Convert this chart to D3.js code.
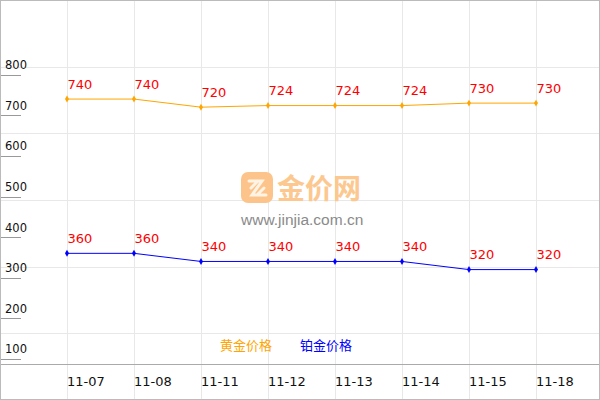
<!DOCTYPE html>
<html><head><meta charset="utf-8">
<script src="https://cdn.jsdelivr.net/npm/d3@7"></script>
<style>html,body{margin:0;padding:0;background:#fff;}svg{display:block;}</style>
</head><body>
<script>
const categories = ["11-07","11-08","11-11","11-12","11-13","11-14","11-15","11-18"];
const goldValues = [740,740,720,724,724,724,730,730];
const platinumValues = [360,360,340,340,340,340,320,320];
const yTicks = [100,200,300,400,500,600,700,800];
const seriesNames = ["黄金价格","铂金价格"];

const W = 600, H = 400;
const svg = d3.select("body").append("svg").attr("width", W).attr("height", H);

const x = d3.scalePoint().domain(categories).range([67, 536]);
const y = d3.scaleLinear().domain([0, 984]).range([399.5, 0]);
const gridY = d3.scaleLinear().domain([0, 6]).range([0, 400]);

// background grid
const grid = svg.append("g");
grid.selectAll("line.h").data(d3.range(1, 6)).enter().append("line")
  .attr("x1", 0).attr("x2", W)
  .attr("y1", d => Math.round(gridY(d)) + 0.5).attr("y2", d => Math.round(gridY(d)) + 0.5)
  .attr("stroke", "#e8e8e8").attr("stroke-width", 1);
grid.selectAll("line.v").data(categories).enter().append("line")
  .attr("x1", d => Math.round(x(d)) + 0.5).attr("x2", d => Math.round(x(d)) + 0.5)
  .attr("y1", 0).attr("y2", H)
  .attr("stroke", "#e8e8e8").attr("stroke-width", 1);

// watermark
const wm = svg.append("g");
wm.append("rect").attr("x", 241).attr("y", 172).attr("width", 32).attr("height", 31).attr("rx", 7)
  .attr("fill", "#fcc48a");
wm.append("path").attr("d", "M249,181 L262,181 L252,195 L266,195 M251,188 L257,182 M258,194 L264,188")
  .attr("stroke", "#fff3e4").attr("stroke-width", 3).attr("fill", "none").attr("stroke-linecap","round");
wm.append("text").attr("x", 277).attr("y", 199).attr("font-family", "Noto Sans CJK SC")
  .attr("font-size", 28).attr("font-weight", "bold").attr("fill", "#fcc890").text("金价网");
wm.append("text").attr("x", 241).attr("y", 225).attr("font-family", "Liberation Sans, Arial, sans-serif")
  .attr("font-size", 15.5).attr("fill", "#8a8a8a").text("www.jinjia.com.cn");

// y ticks (short lines with labels above)
const yt = svg.append("g");
yt.selectAll("line").data(yTicks).enter().append("line")
  .attr("x1", 0).attr("x2", 21)
  .attr("y1", d => Math.round(y(d)) + 0.5).attr("y2", d => Math.round(y(d)) + 0.5)
  .attr("stroke", "#999").attr("stroke-width", 1);
yt.selectAll("text").data(yTicks).enter().append("text")
  .attr("x", 5).attr("y", d => y(d) - 5.5)
  .attr("font-family", "DejaVu Sans, sans-serif").attr("font-size", 11.5).attr("fill", "#111")
  .text(d => d);

// bottom axis line
svg.append("line").attr("x1", 0).attr("x2", W).attr("y1", 364.5).attr("y2", 364.5)
  .attr("stroke", "#aaa").attr("stroke-width", 1);

// x labels
svg.append("g").selectAll("text").data(categories).enter().append("text")
  .attr("x", d => x(d)).attr("y", 386)
  .attr("font-family", "DejaVu Sans, sans-serif").attr("font-size", 13).attr("fill", "#111")
  .text(d => d);

// border
svg.append("rect").attr("x", 0.5).attr("y", 0.5).attr("width", W - 1).attr("height", H - 1)
  .attr("fill", "none").attr("stroke", "#bbb").attr("stroke-width", 1);

// series
const series = [
  {name: seriesNames[0], values: goldValues, color: "#ffa500"},
  {name: seriesNames[1], values: platinumValues, color: "#0000ff"}
];
const line = d3.line().x((d, i) => x(categories[i])).y(d => y(d));
series.forEach(s => {
  const g = svg.append("g");
  g.append("path").attr("d", line(s.values)).attr("fill", "none")
    .attr("stroke", s.color).attr("stroke-width", 1);
  g.selectAll("path.m").data(s.values).enter().append("path")
    .attr("transform", (d, i) => `translate(${x(categories[i])},${y(d)})`)
    .attr("d", d3.symbol().type(d3.symbolDiamond).size(14))
    .attr("fill", s.color);
  g.selectAll("text").data(s.values).enter().append("text")
    .attr("x", (d, i) => x(categories[i]) + 0.5).attr("y", d => y(d) - 10.5)
    .attr("font-family", "DejaVu Sans, sans-serif").attr("font-size", 13).attr("fill", "#ff0000")
    .text(d => d);
});

// legend
const legend = svg.append("g");
legend.selectAll("text").data(series).enter().append("text")
  .attr("x", (d, i) => 220 + i * 80).attr("y", 350)
  .attr("font-family", "Noto Sans CJK SC").attr("font-size", 13)
  .attr("fill", d => d.color).text(d => d.name);
</script>
</body></html>
